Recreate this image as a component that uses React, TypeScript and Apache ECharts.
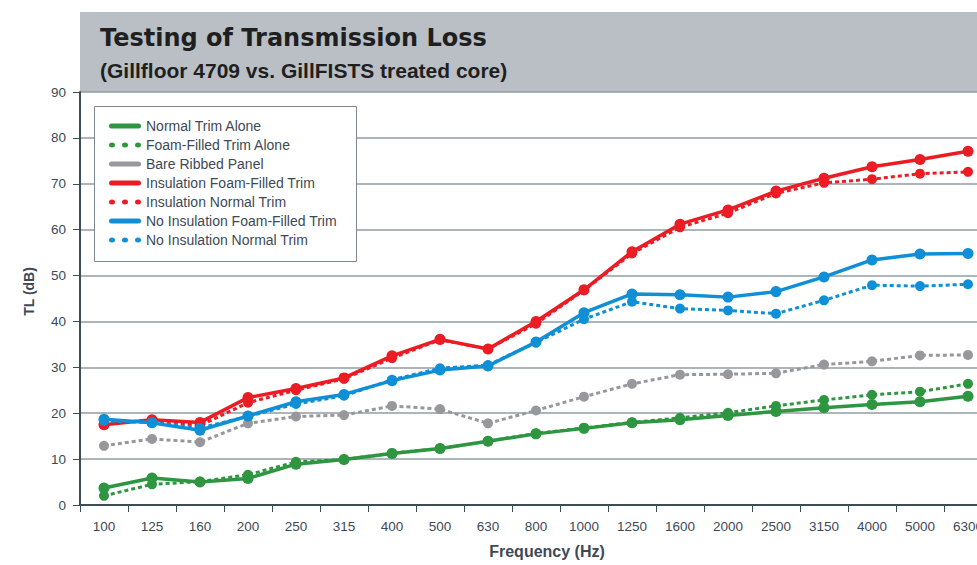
import React, { useEffect, useRef } from "react";
import * as echarts from "echarts";

const categories = ["100", "125", "160", "200", "250", "315", "400", "500", "630", "800", "1000", "1250", "1600", "2000", "2500", "3150", "4000", "5000", "6300"];
const yTicks = [0, 10, 20, 30, 40, 50, 60, 70, 80, 90];

const normalTrimAlone = [3.7, 5.9, 5.0, 5.8, 8.9, 9.9, 11.2, 12.3, 13.9, 15.5, 16.7, 17.9, 18.6, 19.5, 20.4, 21.2, 21.9, 22.5, 23.7];
const foamFilledTrimAlone = [2.0, 4.5, 5.1, 6.6, 9.4, 9.9, 11.3, 12.3, 13.9, 15.6, 16.8, 18.0, 19.0, 20.1, 21.6, 22.9, 24.0, 24.7, 26.4];
const bareRibbedPanel = [12.9, 14.4, 13.7, 17.8, 19.3, 19.6, 21.6, 20.9, 17.8, 20.6, 23.6, 26.4, 28.4, 28.5, 28.7, 30.6, 31.3, 32.6, 32.7];
const insulationFoamFilledTrim = [17.5, 18.6, 18.0, 23.4, 25.4, 27.7, 32.5, 36.1, 34.0, 40.0, 46.9, 55.2, 61.2, 64.3, 68.4, 71.2, 73.7, 75.3, 77.1];
const insulationNormalTrim = [17.9, 18.4, 17.3, 22.3, 25.0, 27.5, 32.0, 36.0, 34.0, 39.5, 46.8, 54.8, 60.5, 63.6, 67.9, 70.2, 71.0, 72.2, 72.6];
const noInsulationFoamFilledTrim = [18.7, 17.9, 16.3, 19.4, 22.5, 24.1, 27.1, 29.4, 30.3, 35.5, 41.9, 46.0, 45.8, 45.3, 46.5, 49.7, 53.4, 54.7, 54.8];
const noInsulationNormalTrim = [18.3, 18.0, 16.8, 19.3, 22.0, 23.8, 27.3, 29.8, 30.5, 35.4, 40.5, 44.3, 42.8, 42.4, 41.7, 44.6, 47.9, 47.7, 48.1];

const GREEN = "#2e9640";
const GREY = "#98989c";
const RED = "#ec1c24";
const BLUE = "#0f8fd6";
const TEXT = "#3d4a56";
const AXIS = "#3c4d5a";

const SOLID_ICON = "path://M2.5,0L29.5,0A2.5,2.5 0 0 1 29.5,5L2.5,5A2.5,2.5 0 0 1 2.5,0Z";
const DOT_ICON =
  "path://M0,2.5A3,2.5 0 1 0 6,2.5A3,2.5 0 1 0 0,2.5Z M13,2.5A3,2.5 0 1 0 19,2.5A3,2.5 0 1 0 13,2.5Z M26,2.5A3,2.5 0 1 0 32,2.5A3,2.5 0 1 0 26,2.5Z";

const seriesDefs = [
  { name: "Normal Trim Alone", data: normalTrimAlone, color: GREEN, dotted: false, icon: SOLID_ICON },
  { name: "Foam-Filled Trim Alone", data: foamFilledTrimAlone, color: GREEN, dotted: true, icon: DOT_ICON },
  { name: "Bare Ribbed Panel", data: bareRibbedPanel, color: GREY, dotted: true, icon: SOLID_ICON },
  { name: "Insulation Foam-Filled Trim", data: insulationFoamFilledTrim, color: RED, dotted: false, icon: SOLID_ICON },
  { name: "Insulation Normal Trim", data: insulationNormalTrim, color: RED, dotted: true, icon: DOT_ICON },
  { name: "No Insulation Foam-Filled Trim", data: noInsulationFoamFilledTrim, color: BLUE, dotted: false, icon: SOLID_ICON },
  { name: "No Insulation Normal Trim", data: noInsulationNormalTrim, color: BLUE, dotted: true, icon: DOT_ICON },
];

export default function App() {
  const ref = useRef<HTMLDivElement>(null);
  useEffect(() => {
    if (!ref.current) return;
    const chart = echarts.init(ref.current, null, { renderer: "svg" });
    const font = "'Liberation Sans', Arial, Helvetica, sans-serif";
    const titleFont = "'DejaVu Sans', 'Liberation Sans', sans-serif";
    chart.setOption({
      animation: false,
      backgroundColor: "#ffffff",
      textStyle: { fontFamily: font },
      graphic: [
        {
          type: "rect",
          z: -10,
          shape: { x: 80, y: 12, width: 897, height: 80 },
          style: { fill: "#b9bfc5" },
        },
        {
          type: "text",
          z: 10,
          x: 100,
          y: 26,
          style: { text: "Testing of Transmission Loss", fill: "#1f1f1f", font: `bold 24px ${titleFont}` },
        },
        {
          type: "text",
          z: 10,
          x: 100,
          y: 60,
          style: { text: "(Gillfloor 4709 vs. GillFISTS treated core)", fill: "#1f1f1f", font: `bold 21px ${font}` },
        },
        {
          type: "rect",
          z: 5,
          shape: { x: 94.5, y: 106.5, width: 262, height: 155 },
          style: { fill: "#ffffff", stroke: "#7e8890", lineWidth: 1 },
        },
      ],
      legend: {
        z: 20,
        orient: "vertical",
        left: 109,
        top: 116.5,
        padding: 0,
        itemWidth: 32,
        itemHeight: 5,
        itemGap: 0,
        textStyle: { fontSize: 14, color: TEXT, lineHeight: 19, fontFamily: font },
        data: seriesDefs.map((s) => ({ name: s.name, icon: s.icon })),
      },
      grid: { left: 80, top: 92, width: 912, height: 413, outerBoundsMode: "none", containLabel: false },
      xAxis: {
        type: "category",
        data: categories,
        boundaryGap: true,
        name: "Frequency (Hz)",
        nameLocation: "middle",
        nameGap: 38,
        nameTextStyle: { fontSize: 16, fontWeight: "bold", color: TEXT, fontFamily: font, padding: [0, 0, 0, 22] },
        axisLine: { lineStyle: { color: AXIS, width: 2 } },
        axisTick: { show: true, length: 7, lineStyle: { color: AXIS, width: 1 } },
        axisLabel: { color: TEXT, fontSize: 13.5, margin: 14, fontFamily: font, interval: 0 },
        splitLine: { show: false },
      },
      yAxis: {
        type: "value",
        min: 0,
        max: 90,
        interval: 10,
        name: "TL (dB)",
        nameLocation: "middle",
        nameGap: 44,
        nameTextStyle: { fontSize: 14, fontWeight: "bold", color: TEXT, fontFamily: font, padding: [0, 0, 0, 14] },
        axisLine: { show: true, lineStyle: { color: AXIS, width: 2 } },
        axisTick: { show: true, length: 7, lineStyle: { color: AXIS, width: 1 } },
        axisLabel: {
          color: TEXT,
          fontSize: 13.5,
          margin: 14,
          fontFamily: font,
          formatter: (v: number) => (yTicks.includes(v) ? String(v) : ""),
        },
        splitLine: { show: true, lineStyle: { color: "#929ca4", width: 1.5 } },
      },
      series: seriesDefs.map((s) => ({
        name: s.name,
        type: "line",
        data: s.data,
        symbol: "circle",
        symbolSize: s.dotted ? 10 : 11,
        color: s.color,
        itemStyle: { color: s.color },
        lineStyle: { color: s.color, width: s.dotted ? 3 : 3.5, type: s.dotted ? [4, 3] : "solid" },
        z: 3,
      })),
    });
    return () => chart.dispose();
  }, []);
  return <div ref={ref} style={{ position: "fixed", left: 0, top: 0, width: 977, height: 565 }} />;
}
